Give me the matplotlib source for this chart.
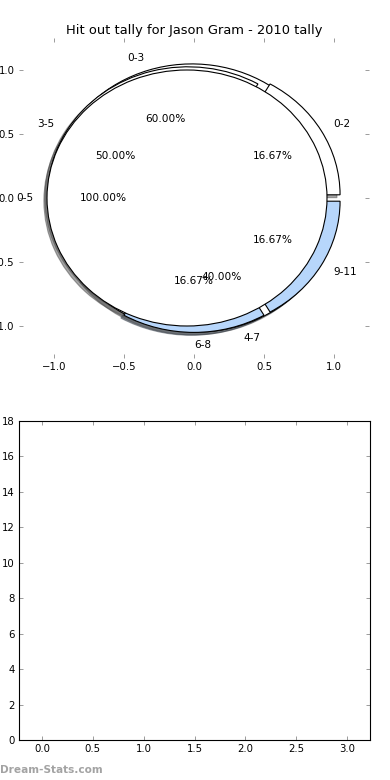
import matplotlib
matplotlib.use("Agg")
import matplotlib.pyplot as plt

# ---- data -------------------------------------------------------------
title = "Hit out tally for Jason Gram - 2010 tally"

# first set of ranges (drawn underneath)
labels_a = ["0-3", "4-7"]
values_a = [3, 2]
colors_a = ["white", "white"]

# second set of ranges
labels_b = ["0-2", "3-5", "6-8", "9-11"]
values_b = [1, 3, 1, 1]
colors_b = ["white", "white", "#b7d6fb", "#b7d6fb"]

# third set (drawn on top)
labels_c = ["0-5"]
values_c = [1]
colors_c = ["white"]

explode_amount = 0.05

pie_ticks = [-1.0, -0.5, 0.0, 0.5, 1.0]
bar_xticks = [0.0, 0.5, 1.0, 1.5, 2.0, 2.5, 3.0]
bar_yticks = [0, 2, 4, 6, 8, 10, 12, 14, 16, 18]

# ---- figure -----------------------------------------------------------
W, H = 390, 780
fig = plt.figure(figsize=(W / 100, H / 100), dpi=100)
fig.patch.set_facecolor("white")

ax1 = fig.add_axes([19 / W, 1 - 358 / H, 350 / W, 320 / H])
ax2 = fig.add_axes([19 / W, 40 / H, 351 / W, 319 / H])

FS = 7.3
PFS = 7.6
# Shadow offset is applied in data units here (points -> pixels value)
shadow = {"ox": -0.016, "oy": -0.016}
wp = {"linewidth": 0.8, "edgecolor": "black"}
tp = {"fontsize": PFS}

for labels, values, colors in [(labels_a, values_a, colors_a),
                               (labels_b, values_b, colors_b),
                               (labels_c, values_c, colors_c)]:
    ax1.pie(values, explode=[explode_amount] * len(values), labels=labels,
            colors=colors, autopct="%1.2f%%", pctdistance=0.6,
            labeldistance=1.1, shadow=shadow, wedgeprops=wp, textprops=tp)

ax1.set_aspect("auto")
ax1.set_xlim(-1.25, 1.25)
ax1.set_ylim(-1.25, 1.25)
ax1.set_frame_on(False)
ax1.set_xticks(pie_ticks)
ax1.set_yticks(pie_ticks)
ax1.set_xticklabels([f"{t:.1f}".replace("-", "\u2212") for t in pie_ticks])
ax1.set_yticklabels([f"{t:.1f}".replace("-", "\u2212") for t in pie_ticks])
ax1.set_title(title, fontsize=9.4, pad=3)

# ---- empty bar axes ---------------------------------------------------
ax2.set_xlim(-0.225, 3.225)
ax2.set_ylim(0, 18)
ax2.set_xticks(bar_xticks)
ax2.set_yticks(bar_yticks)
for sp in ax2.spines.values():
    sp.set_linewidth(0.8)

for ax in (ax1, ax2):
    ax.tick_params(direction="in", top=True, right=True, length=3,
                   width=0.6, color="0.55", labelsize=FS, pad=3)

fig.text(0.0, 1 - 770 / H, "Dream-Stats.com", fontsize=7.6,
         fontweight="bold", color="#a3a3a3", va="center", ha="left")

fig.savefig("out.png", dpi=100)
